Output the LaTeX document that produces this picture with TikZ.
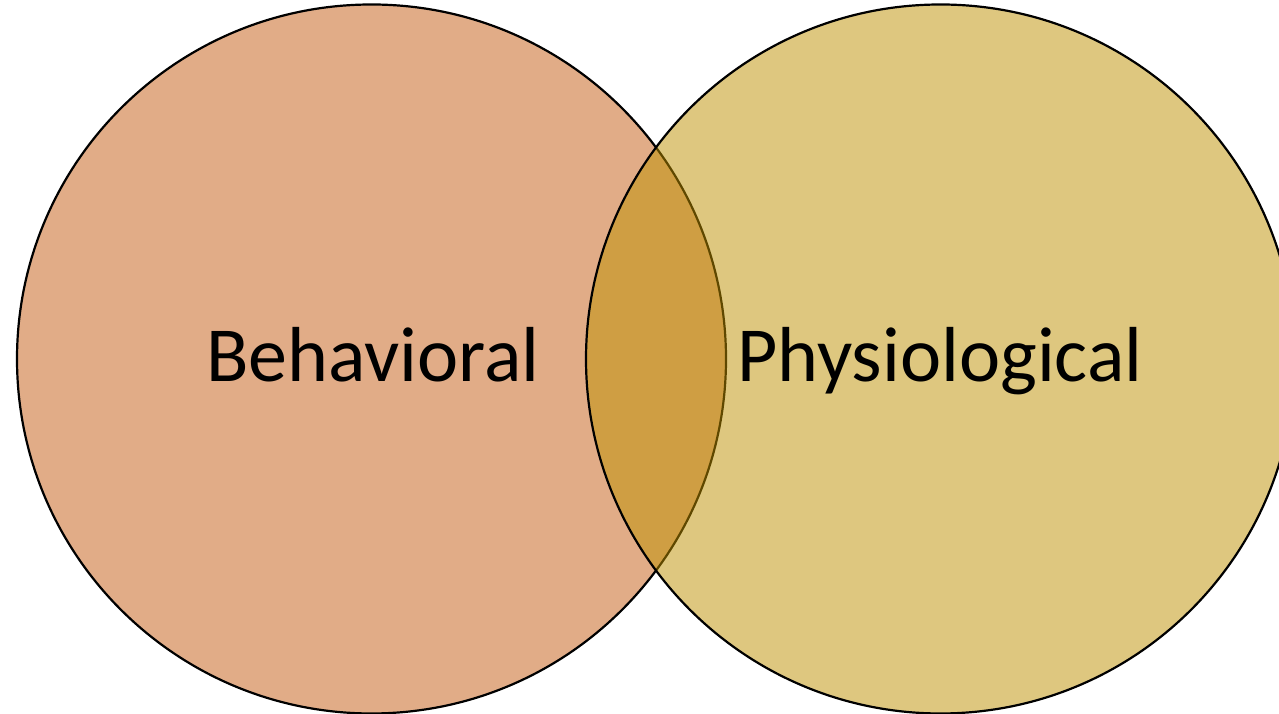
\documentclass[tikz,border=0pt]{standalone}
\usepackage{fontspec}
\setmainfont{Carlito}
\definecolor{behav}{RGB}{197,90,17}
\definecolor{physio}{RGB}{191,145,0}
\begin{document}
\begin{tikzpicture}[x=1pt,y=1pt,
  venn/.style={circle,draw=black,line width=2.2pt,fill opacity=0.5,minimum size=709pt,inner sep=0pt},
  lbl/.style={anchor=base,font=\fontsize{78}{78}\selectfont,text=black}]
\useasboundingbox (0,0) rectangle (1279,714);
\clip (0,0) rectangle (1279,714);
\fill[white] (0,0) rectangle (1279,714);
\node[venn,fill=behav] (b) at (371.5,355) {};
\node[venn,fill=physio] (p) at (940.5,355) {};
\node[lbl] (bt) at (373,332) {Behavioral};
\node[lbl] (pt) at (940,332) {Physiological};
\end{tikzpicture}
\end{document}
